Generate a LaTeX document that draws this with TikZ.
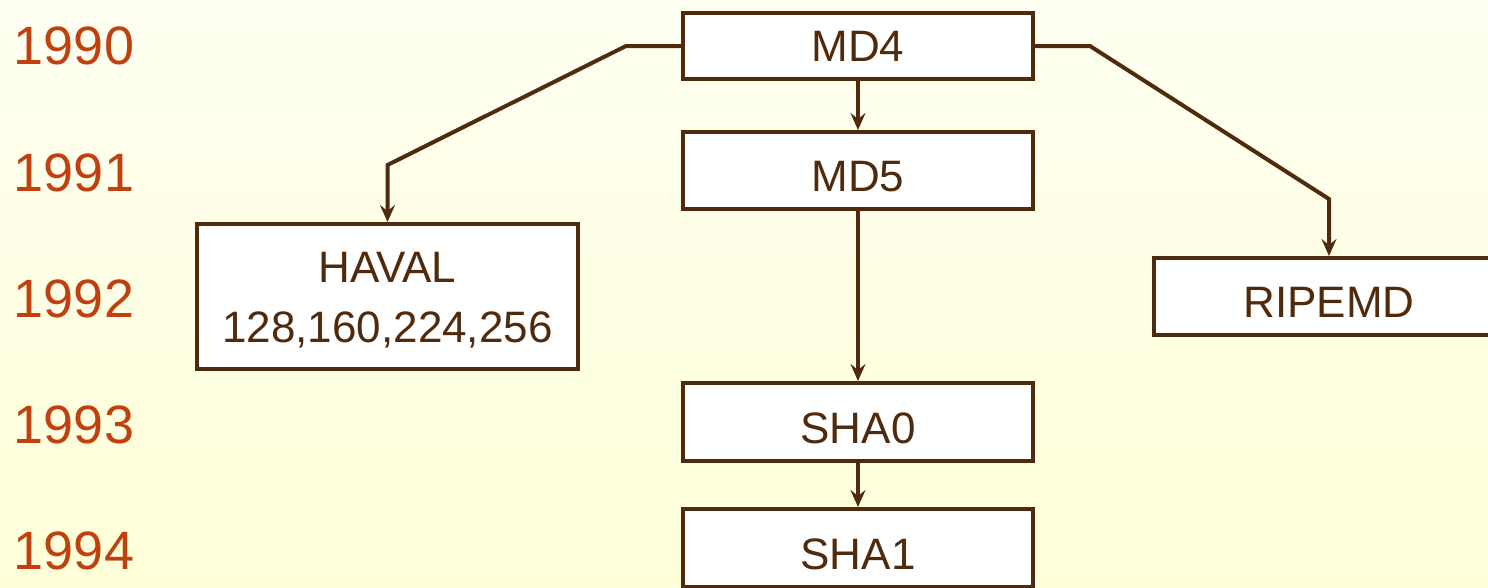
\documentclass[tikz,border=0pt]{standalone}
\usepackage{fontspec}
\setmainfont{Liberation Sans}
\usetikzlibrary{arrows.meta}
\definecolor{linebrown}{RGB}{80,42,12}
\definecolor{yearred}{RGB}{192,65,15}
\definecolor{bgtop}{RGB}{255,255,242}
\definecolor{bgbottom}{RGB}{255,255,216}
\tikzset{
  algbox/.style={draw=linebrown, line width=4pt, fill=white, text=linebrown,
    inner sep=0pt, minimum width=350pt, minimum height=77pt,
    font=\fontsize{44}{60}\selectfont, align=center},
  lowtext/.style={text height=42pt, text depth=0pt},
  yearlabel/.style={text=yearred, inner sep=0pt, font=\fontsize{54}{60}\selectfont},
  conn/.style={draw=linebrown, line width=4pt,
    -{Stealth[length=17pt, width=15pt, inset=6pt]}},
}
\begin{document}
\begin{tikzpicture}[x=1pt, y=-1pt]
  % page and background
  \useasboundingbox (0,0) rectangle (1488,587);
  \clip (0,0) rectangle (1488,587);
  \shade[top color=bgtop, bottom color=bgbottom] (0,0) rectangle (1488,587);

  % year column
  \node[yearlabel] (y1990) at (74,46)  {1990};
  \node[yearlabel] (y1991) at (74,173) {1991};
  \node[yearlabel] (y1992) at (74,299) {1992};
  \node[yearlabel] (y1993) at (74,425) {1993};
  \node[yearlabel] (y1994) at (74,551) {1994};

  % hash functions
  \node[algbox, minimum height=66pt] (md4) at (858,46) {MD4};
  \node[algbox, lowtext] (md5) at (858,170.5) {MD5};
  \node[algbox, minimum width=381pt, minimum height=145pt,
        text height=100pt, text depth=9pt] (haval) at (387.5,296.5)
    {HAVAL\\128,160,224,256};
  \node[algbox, lowtext] (ripemd) at (1329,296.5) {RIPEMD};
  \node[algbox, lowtext, minimum height=78pt] (sha0) at (858,422) {SHA0};
  \node[algbox, lowtext, minimum height=78pt] (sha1) at (858,548) {SHA1};

  % bends of the side branches
  \coordinate (lbendA) at (626,46);
  \coordinate (lbendB) at (387.5,165);
  \coordinate (rbendA) at (1090,46);
  \coordinate (rbendB) at (1329,199);

  % derivations
  \draw[conn] (md4.west) -- (lbendA) -- (lbendB) -- (haval.north);
  \draw[conn] (md4.east) -- (rbendA) -- (rbendB) -- (ripemd.north);
  \draw[conn] (md4.south) -- (md5.north);
  \draw[conn] (md5.south) -- (sha0.north);
  \draw[conn] (sha0.south) -- (sha1.north);
\end{tikzpicture}
\end{document}
